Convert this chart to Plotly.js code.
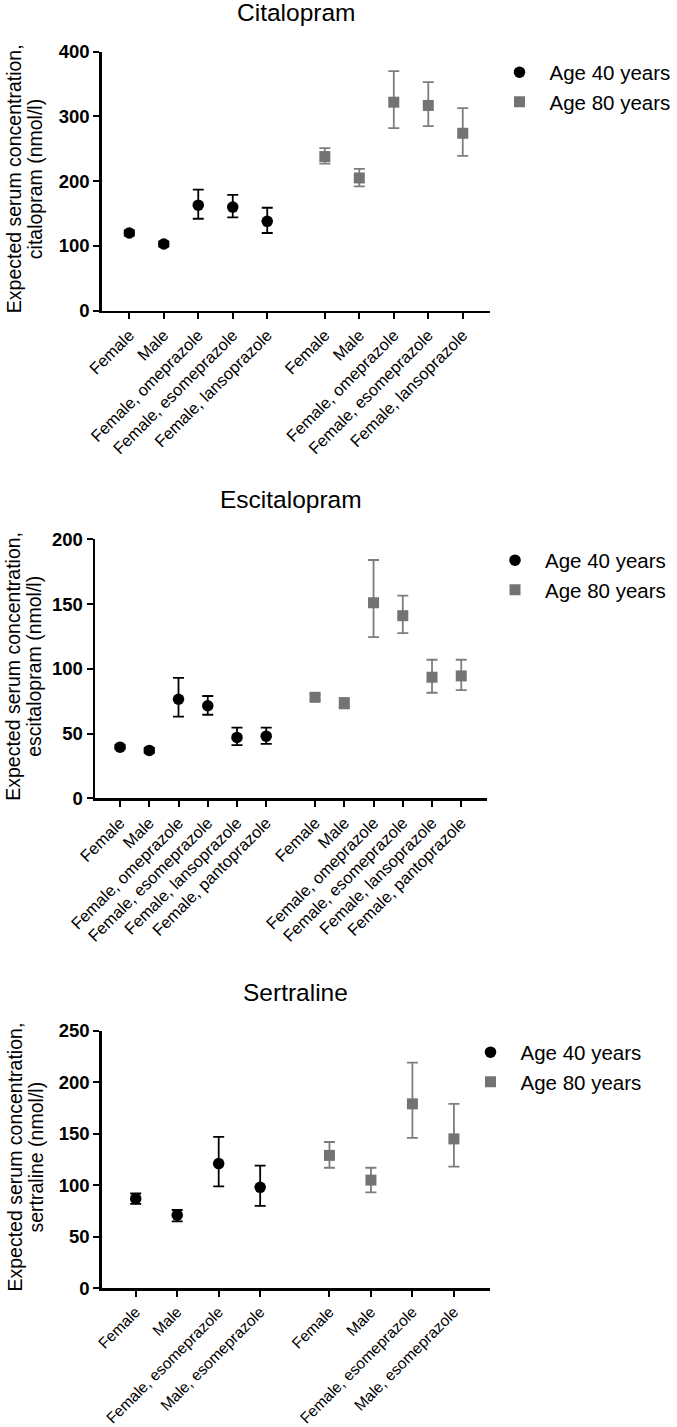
<!DOCTYPE html>
<html><head><meta charset="utf-8">
<script src="https://cdn.plot.ly/plotly-3.0.1.min.js"></script>
<style>html,body{margin:0;padding:0;background:#fff}</style>
</head><body><div id="chart" style="width:677px;height:1427px"></div>
<script>
// ---- Citalopram ----
const citCategories = ["Female", "Male", "Female, omeprazole", "Female, esomeprazole", "Female, lansoprazole"];
const cit40Mean  = [120, 103, 163, 160, 138];
const cit40Upper = [124, 107, 187, 179, 159];
const cit40Lower = [116,  99, 142, 144, 120];
const cit80Mean  = [238, 205, 322, 317, 274];
const cit80Upper = [251, 219, 370, 353, 313];
const cit80Lower = [227, 192, 282, 285, 239];

// ---- Escitalopram ----
const escCategories = ["Female", "Male", "Female, omeprazole", "Female, esomeprazole", "Female, lansoprazole", "Female, pantoprazole"];
const esc40Mean  = [39.5, 37, 76.5, 71.5, 47, 48];
const esc40Upper = [41, 39, 93, 79, 54.5, 54.5];
const esc40Lower = [38, 35, 63, 64.5, 41, 42];
const esc80Mean  = [78, 73, 151, 141, 93.5, 94.5];
const esc80Upper = [80, 77.5, 184, 156.5, 107, 107];
const esc80Lower = [76, 70.5, 124.5, 127.5, 81.5, 83.5];

// ---- Sertraline ----
const serCategories = ["Female", "Male", "Female, esomeprazole", "Male, esomeprazole"];
const ser40Mean  = [87, 71, 121, 98];
const ser40Upper = [92, 76, 147, 119];
const ser40Lower = [82, 65, 99, 80];
const ser80Mean  = [129, 105, 179, 145];
const ser80Upper = [142, 117, 219, 179];
const ser80Lower = [117, 93, 146, 118];

const seriesNames = ["Age 40 years", "Age 80 years"];
const titles = ["Citalopram", "Escitalopram", "Sertraline"];
const drugLabels = ["citalopram (nmol/l)", "escitalopram (nmol/l)", "sertraline (nmol/l)"];
const yTitleLine1 = "Expected serum concentration,";

// ---- layout geometry (pixels) ----
const W = 677, H = 1427;
const px = v => v / W, py = v => 1 - v / H;
const GAP = 0.67;
const FONT = "Liberation Sans, Arial, Helvetica, sans-serif";
const panels = [
  {cats: citCategories, m40: cit40Mean, u40: cit40Upper, l40: cit40Lower, m80: cit80Mean, u80: cit80Upper, l80: cit80Lower,
   yMax: 400, dtick: 100, left: 101.7, right: 490, top: 51.7, bottom: 310.7, padL: 0.80, padR: 0.79,
   legX: 519.5, legY: 69.3, titleY: 13, yt1: 14, yt2: 35, xfs: 16.5},
  {cats: escCategories, m40: esc40Mean, u40: esc40Upper, l40: esc40Lower, m80: esc80Mean, u80: esc80Upper, l80: esc80Lower,
   yMax: 200, dtick: 50, left: 95, right: 486.7, top: 539.3, bottom: 798.3, padL: 0.856, padR: 0.87,
   legX: 515, legY: 557.3, titleY: 499.5, yt1: 13, yt2: 34, xfs: 16.5},
  {cats: serCategories, m40: ser40Mean, u40: ser40Upper, l40: ser40Lower, m80: ser80Mean, u80: ser80Upper, l80: ser80Lower,
   yMax: 250, dtick: 50, left: 101.7, right: 490, top: 1030.7, bottom: 1288.3, padL: 0.82, padR: 0.87,
   legX: 490.5, legY: 1049.3, titleY: 992, yt1: 14, yt2: 35, xfs: 15.5}
];

const traces = [];
const layout = {
  width: W, height: H, margin: {l: 0, r: 0, t: 0, b: 0},
  paper_bgcolor: "#fff", plot_bgcolor: "#fff",
  font: {family: FONT, color: "#000"},
  showlegend: true, annotations: []
};

panels.forEach((p, k) => {
  const n = p.cats.length;
  const xs40 = p.cats.map((c, i) => i);
  const xs80 = p.cats.map((c, i) => n + GAP + i);
  const sfx = k === 0 ? "" : String(k + 1);
  const xa = "x" + sfx, ya = "y" + sfx;
  const leg = "legend" + sfx;
  const yTicks = [];
  for (let v = 0; v <= p.yMax; v += p.dtick) yTicks.push(v);

  traces.push({
    type: "scatter", mode: "markers", name: seriesNames[0], x: xs40, y: p.m40,
    xaxis: xa, yaxis: ya, legend: leg, cliponaxis: false,
    marker: {symbol: "circle", size: 11.5, color: "#000"},
    error_y: {type: "data", symmetric: false,
      array: p.u40.map((u, i) => u - p.m40[i]), arrayminus: p.l40.map((l, i) => p.m40[i] - l),
      color: "#000", thickness: 1.8, width: 5.5},
    hoverinfo: "x+y"
  });
  traces.push({
    type: "scatter", mode: "markers", name: seriesNames[1], x: xs80, y: p.m80,
    xaxis: xa, yaxis: ya, legend: leg, cliponaxis: false,
    marker: {symbol: "square", size: 11, color: "#737373"},
    error_y: {type: "data", symmetric: false,
      array: p.u80.map((u, i) => u - p.m80[i]), arrayminus: p.l80.map((l, i) => p.m80[i] - l),
      color: "#7d7d7d", thickness: 1.8, width: 5.5},
    hoverinfo: "x+y"
  });

  layout["xaxis" + sfx] = {
    domain: [px(p.left), px(p.right)], anchor: ya,
    range: [-p.padL, 2 * n - 1 + GAP + p.padR],
    tickmode: "array", tickvals: xs40.concat(xs80), ticktext: p.cats.concat(p.cats),
    tickangle: -45, tickfont: {family: FONT, size: p.xfs, color: "#000"},
    showline: true, linecolor: "#000", linewidth: 2.5,
    ticks: "outside", ticklen: 6, tickwidth: 2, tickcolor: "#000",
    showgrid: false, zeroline: false, fixedrange: true
  };
  layout["yaxis" + sfx] = {
    domain: [py(p.bottom), py(p.top)], anchor: xa,
    range: [0, p.yMax], tickmode: "array", tickvals: yTicks,
    ticktext: yTicks.map(v => "<b>" + v + "</b>"),
    tickfont: {family: FONT, size: 18.5, color: "#000"},
    showline: true, linecolor: "#000", linewidth: 2.5,
    ticks: "outside", ticklen: 6, tickwidth: 2, tickcolor: "#000",
    showgrid: false, zeroline: false, fixedrange: true
  };
  layout[leg] = {
    x: px(p.legX - 30), xanchor: "left", xref: "paper",
    y: py(p.legY - 17), yanchor: "top", yref: "paper",
    itemwidth: 50, font: {family: FONT, size: 20.5, color: "#000"},
    bgcolor: "rgba(0,0,0,0)", borderwidth: 0, tracegroupgap: 0, traceorder: "normal"
  };
  const midY = (p.top + p.bottom) / 2;
  const cx = (p.left + p.right) / 2;
  layout.annotations.push({
    text: titles[k], xref: "paper", yref: "paper", x: px(cx), y: py(p.titleY),
    xanchor: "center", yanchor: "middle", showarrow: false,
    font: {family: FONT, size: 24.5, color: "#000"}
  });
  layout.annotations.push({
    text: yTitleLine1, xref: "paper", yref: "paper", x: px(p.yt1), y: py(midY - 2),
    xanchor: "center", yanchor: "middle", showarrow: false, textangle: -90,
    font: {family: FONT, size: 19.5, color: "#000"}
  });
  layout.annotations.push({
    text: drugLabels[k], xref: "paper", yref: "paper", x: px(p.yt2), y: py(midY - 2),
    xanchor: "center", yanchor: "middle", showarrow: false, textangle: -90,
    font: {family: FONT, size: 19.5, color: "#000"}
  });
});

Plotly.newPlot("chart", traces, layout, {staticPlot: true, displayModeBar: false});
</script>
</body></html>
